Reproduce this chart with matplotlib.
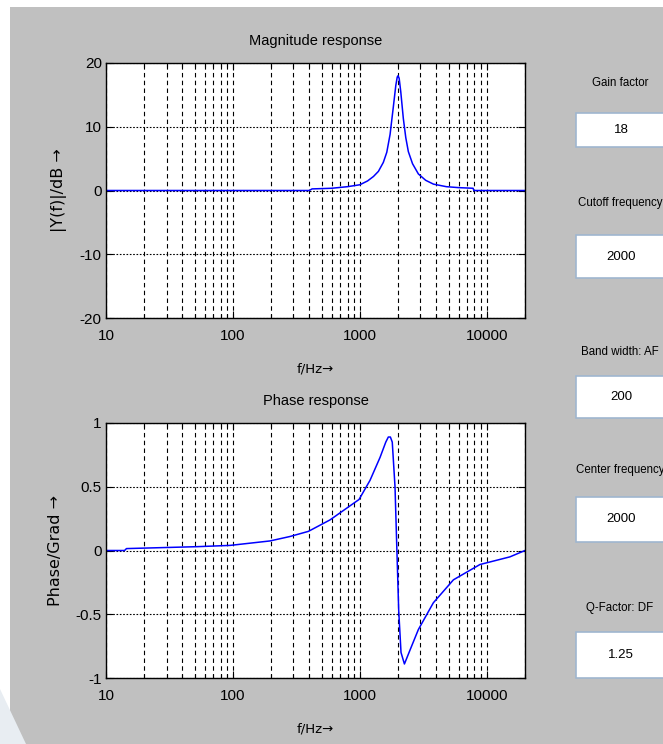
import matplotlib
matplotlib.use("Agg")
import matplotlib.pyplot as plt
from matplotlib.patches import Rectangle, Polygon
from matplotlib.ticker import FixedLocator, NullFormatter

# magnitude response
mag_freq = [10, 400, 420, 600, 800, 1000, 1150, 1280, 1400, 1530, 1630, 1730, 1830,
            1920, 1970, 2000, 2040, 2100, 2200, 2300, 2410, 2600, 2890, 3300, 3800,
            4800, 6000, 7800, 7900, 20000]
mag_db = [0, 0, 0.25, 0.35, 0.6, 0.9, 1.5, 2.2, 3.0, 4.4, 6.0, 8.8, 12.9,
          16.5, 17.8, 18.0, 17.6, 15.5, 11.3, 8.3, 6.1, 4.2, 2.6, 1.6, 1.0,
          0.6, 0.45, 0.35, 0, 0]

# phase response
ph_freq = [10, 14, 14.5, 52, 95, 196, 282, 393, 582, 985, 1202, 1442, 1600, 1676,
           1740, 1800, 1892, 1950, 2023, 2110, 2244, 2486, 2890, 3793, 5458, 8830,
           15200, 20000]
ph_val = [0, 0, 0.015, 0.03, 0.04, 0.075, 0.11, 0.15, 0.24, 0.40, 0.55, 0.73, 0.85, 0.89,
          0.89, 0.85, 0.5, 0.06, -0.47, -0.8, -0.89, -0.78, -0.62, -0.41, -0.23, -0.11,
          -0.05, 0]

# control panel on the right
panel_labels = ["Gain factor", "Cutoff frequency", "Band width: AF", "Center frequency", "Q-Factor: DF"]
panel_values = ["18", "2000", "200", "2000", "1.25"]

x_major = [10, 100, 1000, 10000]
x_minor = [m * d for d in (10, 100, 1000) for m in range(2, 10)] + [20000]

W, H = 663, 744
SANS = ["Liberation Sans", "DejaVu Sans"]
GRAY = "#c0c0c0"

fig = plt.figure(figsize=(W / 100, H / 100), dpi=100)
fig.patch.set_facecolor("white")
fig.patches.append(Rectangle((10 / W, 0), 1 - 10 / W, 1 - 7 / H, transform=fig.transFigure,
                             facecolor=GRAY, edgecolor="none", zorder=-10))
fig.patches.append(Polygon([(0, 0), (26 / W, 0), (0, 55 / H)], closed=True, transform=fig.transFigure,
                           facecolor="#e8edf2", edgecolor="none", zorder=-9))


def setup(ax, ylim, yticks, ylabels, title, ylabel):
    ax.set_facecolor("white")
    ax.set_xscale("log")
    ax.set_xlim(10, 20000)
    ax.set_ylim(*ylim)
    ax.xaxis.set_major_locator(FixedLocator(x_major))
    ax.xaxis.set_minor_locator(FixedLocator(x_minor))
    ax.xaxis.set_minor_formatter(NullFormatter())
    ax.set_xticklabels([str(v) for v in x_major], family=SANS, fontsize=11)
    ax.set_yticks(yticks)
    ax.set_yticklabels(ylabels, family=SANS, fontsize=11)
    ax.tick_params(which="both", direction="in", top=True, right=True, width=0.8)
    ax.tick_params(which="major", length=5)
    ax.tick_params(which="minor", length=3)
    ax.tick_params(axis="x", pad=8)
    ax.tick_params(axis="y", pad=3)
    for s in ax.spines.values():
        s.set_linewidth(1.0)
    ax.grid(True, axis="y", which="major", color="black", linestyle=(0, (1.5, 1.5)), linewidth=0.8)
    ax.grid(True, axis="x", which="both", color="black", linestyle=(0, (4, 3)), linewidth=0.8)
    ax.set_axisbelow(True)
    ax.set_title(title, family=SANS, fontsize=10.5, pad=13)
    ax.set_xlabel("f/Hz\u2192", family="DejaVu Sans", fontsize=9.5, labelpad=14)
    ax.set_ylabel(ylabel, family="DejaVu Sans", fontsize=11.5, labelpad=9)


ax1 = fig.add_axes([106 / W, 1 - 318 / H, 419 / W, 255 / H])
ax1.plot(mag_freq, mag_db, color="#0000ff", linewidth=1.1)
setup(ax1, (-20, 20), [-20, -10, 0, 10, 20], ["-20", "-10", "0", "10", "20"],
      "Magnitude response", "|Y(f)|/dB \u2192")

ax2 = fig.add_axes([106 / W, 1 - 678 / H, 419 / W, 255 / H])
ax2.plot(ph_freq, ph_val, color="#0000ff", linewidth=1.1)
setup(ax2, (-1, 1), [-1, -0.5, 0, 0.5, 1], ["-1", "-0.5", "0", "0.5", "1"],
      "Phase response", "Phase/Grad \u2192")

# right-hand controls
label_y = [83, 203, 352, 470, 608]
box_top = [113, 235, 376, 497, 632]
box_h = [34, 43, 42, 45, 46]
for lab, val, ly, bt, bh in zip(panel_labels, panel_values, label_y, box_top, box_h):
    fig.text(620 / W, 1 - ly / H, lab, family=SANS, fontsize=8.3, ha="center", va="center")
    fig.patches.append(Rectangle((576 / W, 1 - (bt + bh) / H), 100 / W, bh / H, transform=fig.transFigure,
                                 facecolor="white", edgecolor="#9fb6cf", linewidth=1.2))
    fig.text(621 / W, 1 - (bt + bh / 2) / H, val, family=SANS, fontsize=9.5, ha="center", va="center")

fig.savefig("out.png", dpi=100, facecolor=fig.get_facecolor())
